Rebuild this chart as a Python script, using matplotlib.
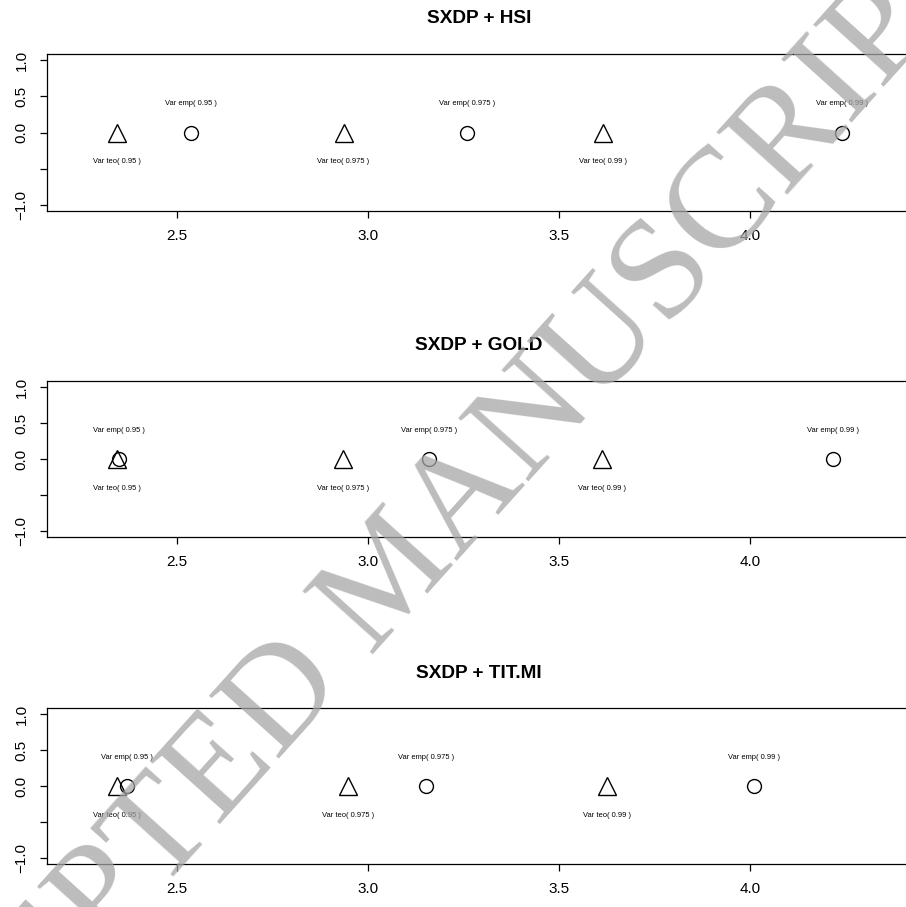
import numpy as np
import matplotlib.pyplot as plt

plt.rcParams['font.family'] = ['Liberation Sans', 'DejaVu Sans']

titles = ['SXDP + HSI', 'SXDP + GOLD', 'SXDP + TIT.MI']
levels = ['0.95', '0.975', '0.99']
var_teo = [[2.342, 2.936, 3.616],
           [2.342, 2.935, 3.613],
           [2.344, 2.947, 3.627]]
var_emp = [[2.536, 3.259, 4.241],
           [2.349, 3.160, 4.218],
           [2.370, 3.151, 4.010]]

W, H = 906, 907
fig = plt.figure(figsize=(W / 100, H / 100), dpi=100)

# panel frames in pixels (top, bottom)
panels = [(54, 211), (381, 537.3), (708.3, 864.3)]
left_px, right_px = 46.7, 911

for k, (top, bot) in enumerate(panels):
    ax = fig.add_axes([left_px / W, 1 - bot / H, (right_px - left_px) / W, (bot - top) / H])
    ax.set_facecolor('none')
    teo = np.array(var_teo[k])
    emp = np.array(var_emp[k])
    ax.plot(teo, np.zeros_like(teo), linestyle='none', marker='^', ms=13.5,
            mfc='none', mec='black', mew=1.0)
    ax.plot(emp, np.zeros_like(emp), linestyle='none', marker='o', ms=10,
            mfc='none', mec='black', mew=1.0)
    for i, lv in enumerate(levels):
        ax.text(emp[i], 0.4, 'Var emp( ' + lv + ' )', ha='center', va='center', fontsize=5.4)
        ax.text(teo[i], -0.4, 'Var teo( ' + lv + ' )', ha='center', va='center', fontsize=5.4)
    ax.set_xlim(2.159, 4.4215)
    ax.set_ylim(-1.0825, 1.0825)
    ax.set_xticks([2.5, 3.0, 3.5, 4.0])
    ax.set_xticklabels(['2.5', '3.0', '3.5', '4.0'])
    ax.set_yticks([-1.0, -0.5, 0.0, 0.5, 1.0])
    ax.set_yticklabels(['\u22121.0', '', '0.0', '0.5', '1.0'], rotation=90, va='center')
    ax.tick_params(axis='both', direction='out', length=5, width=0.9, labelsize=11)
    ax.tick_params(axis='x', pad=8)
    ax.tick_params(axis='y', pad=8)
    ax.spines['right'].set_visible(False)
    for s in ['left', 'top', 'bottom']:
        ax.spines[s].set_linewidth(0.9)
    ax.set_title(titles[k], fontsize=13.7, fontweight='bold', pad=22)

# watermark, drawn over the panels
fig.text(395 / W, 1 - 579 / H, 'ACCEPTED MANUSCRIPT', fontsize=104, family='Liberation Serif',
         color='#a6a6a6', alpha=0.75, rotation=48, rotation_mode='anchor',
         ha='center', va='center', zorder=10)

fig.savefig('out.png', dpi=100)
